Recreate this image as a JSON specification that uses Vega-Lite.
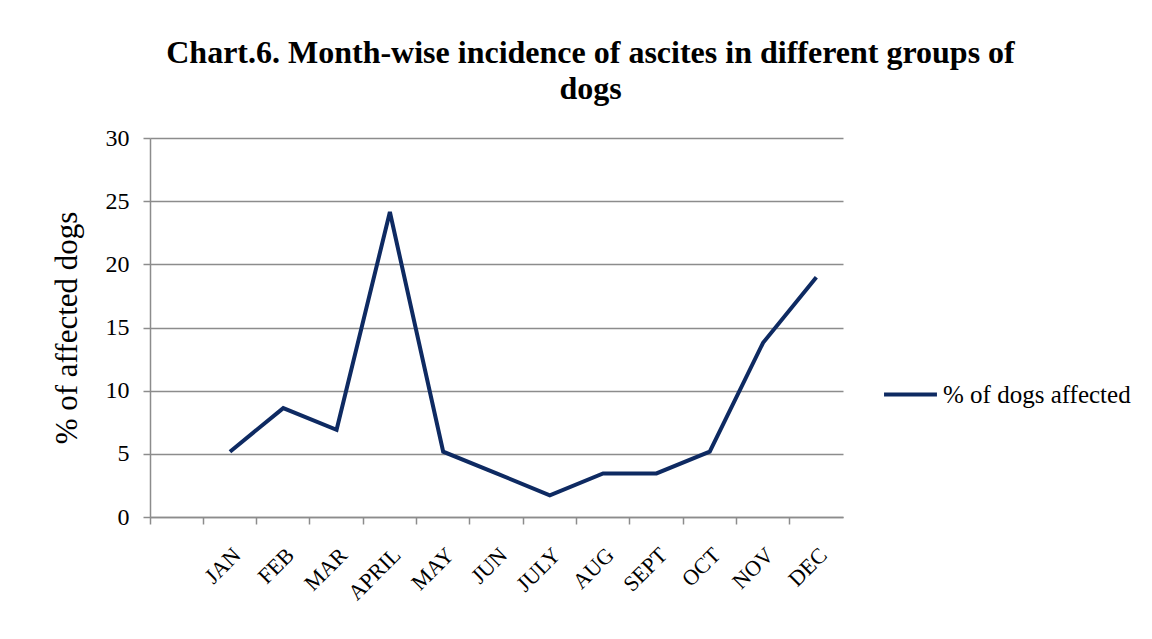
{
  "$schema": "https://vega.github.io/schema/vega-lite/v6.json",
  "autosize": "none",
  "width": 693,
  "height": 379,
  "padding": {"left": 150, "top": 138, "right": 309, "bottom": 122},
  "background": "white",
  "title": {
    "text": ["Chart.6. Month-wise incidence of ascites in different groups of", "dogs"],
    "font": "Liberation Serif",
    "fontSize": 32,
    "fontWeight": "bold",
    "color": "black",
    "lineHeight": 36,
    "anchor": "middle",
    "dx": 94,
    "offset": 20
  },
  "data": {
    "values": [
      {"month": "JAN", "pct": 5.17, "series": "% of dogs affected"},
      {"month": "FEB", "pct": 8.62, "series": "% of dogs affected"},
      {"month": "MAR", "pct": 6.9, "series": "% of dogs affected"},
      {"month": "APRIL", "pct": 24.14, "series": "% of dogs affected"},
      {"month": "MAY", "pct": 5.17, "series": "% of dogs affected"},
      {"month": "JUN", "pct": 3.45, "series": "% of dogs affected"},
      {"month": "JULY", "pct": 1.72, "series": "% of dogs affected"},
      {"month": "AUG", "pct": 3.45, "series": "% of dogs affected"},
      {"month": "SEPT", "pct": 3.45, "series": "% of dogs affected"},
      {"month": "OCT", "pct": 5.17, "series": "% of dogs affected"},
      {"month": "NOV", "pct": 13.79, "series": "% of dogs affected"},
      {"month": "DEC", "pct": 18.97, "series": "% of dogs affected"}
    ]
  },
  "mark": {"type": "line", "strokeWidth": 4, "strokeJoin": "miter"},
  "encoding": {
    "x": {
      "field": "month",
      "type": "nominal",
      "sort": null,
      "scale": {
        "type": "band",
        "domain": [" ", "JAN", "FEB", "MAR", "APRIL", "MAY", "JUN", "JULY", "AUG", "SEPT", "OCT", "NOV", "DEC"],
        "paddingInner": 0,
        "paddingOuter": 0
      },
      "axis": {
        "title": null,
        "bandPosition": 0,
        "labelAngle": -45,
        "labelFont": "Liberation Serif",
        "labelFontSize": 22,
        "labelColor": "black",
        "labelPadding": 20,
        "domainColor": "#8c8c8c",
        "domainWidth": 1.5,
        "ticks": true,
        "tickColor": "#8c8c8c",
        "tickWidth": 1.5,
        "tickSize": 7,
        "grid": false
      }
    },
    "y": {
      "field": "pct",
      "type": "quantitative",
      "scale": {"domain": [0, 30], "nice": false},
      "axis": {
        "title": "% of affected dogs",
        "titleFont": "Liberation Serif",
        "titleFontSize": 31,
        "titleFontWeight": "normal",
        "titleColor": "black",
        "titlePadding": 22,
        "values": [0, 5, 10, 15, 20, 25, 30],
        "labelFont": "Liberation Serif",
        "labelFontSize": 24,
        "labelColor": "black",
        "labelPadding": 14,
        "domainColor": "#8c8c8c",
        "domainWidth": 1.5,
        "tickColor": "#8c8c8c",
        "tickWidth": 1.5,
        "tickSize": 7,
        "gridColor": "#8c8c8c",
        "gridWidth": 1.5
      }
    },
    "color": {
      "field": "series",
      "type": "nominal",
      "scale": {"range": ["#0e2a62"]},
      "legend": {
        "title": null,
        "orient": "none",
        "legendX": 732,
        "legendY": 228,
        "symbolType": "stroke",
        "symbolSize": 2800,
        "symbolStrokeWidth": 4,
        "labelFont": "Liberation Serif",
        "labelFontSize": 25,
        "labelColor": "black",
        "labelOffset": 4,
        "labelLimit": 400
      }
    }
  },
  "config": {"view": {"stroke": null}}
}
